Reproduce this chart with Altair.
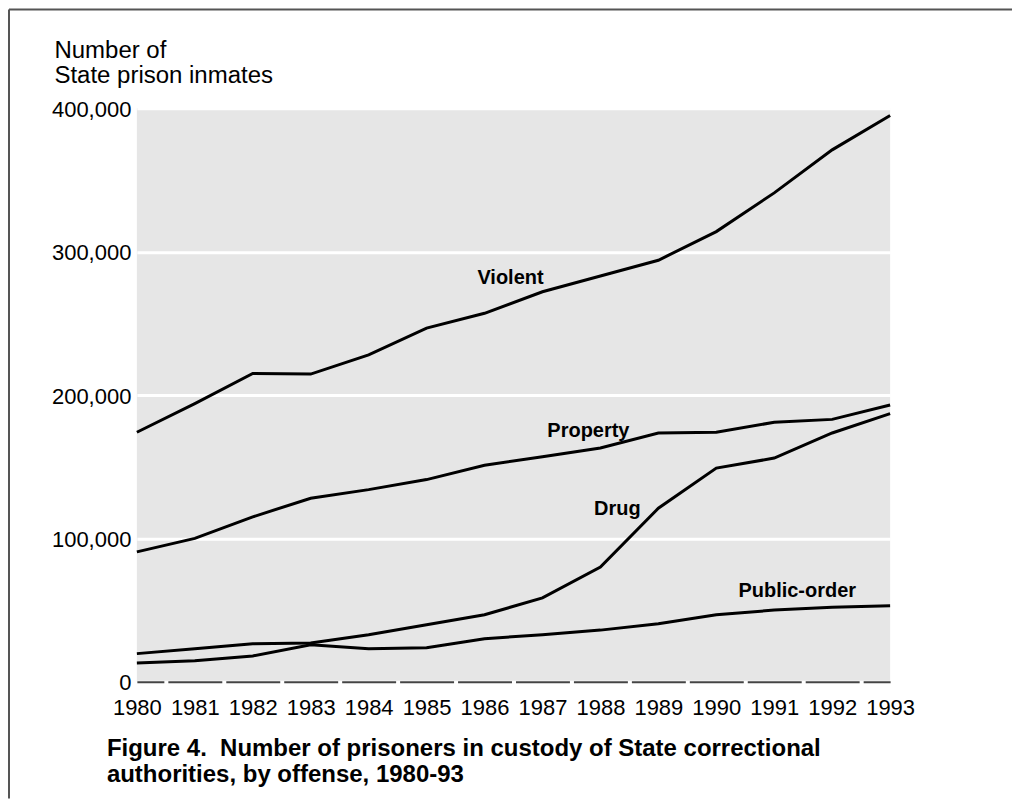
import altair as alt
import pandas as pd

# ---- data ----
years = list(range(1980, 1994))
violent = [174000, 194000, 215000, 214600, 228000, 246700, 257000, 272000,
           283000, 294000, 314000, 341000, 371000, 395000]
property_ = [90600, 100000, 115000, 128000, 134000, 141000, 151000, 157000,
             163000, 173500, 174000, 181000, 183000, 193000]
drug = [19600, 23000, 26500, 27000, 32800, 39700, 46700, 58500,
        80000, 121000, 149000, 156000, 173500, 187000]
public_order = [13000, 14600, 18000, 25800, 23000, 23700, 30000, 32800,
                36000, 40400, 46700, 50000, 52000, 53000]
series_names = ["Violent", "Property", "Drug", "Public-order"]
y_ticks = [0, 100000, 200000, 300000, 400000]
y_title = ["Number of", "State prison inmates"]
fig_title = ("Figure 4.\u00a0 Number of prisoners in custody of State correctional\n"
             "authorities, by offense, 1980-93")

rows = []
for name, vals in zip(series_names, [violent, property_, drug, public_order]):
    for yr, v in zip(years, vals):
        rows.append({"series": name, "year": yr, "value": v})
df = pd.DataFrame(rows)

FONT = "Liberation Sans"

x_enc = alt.X(
    "year:Q",
    scale=alt.Scale(domain=[years[0], years[-1]], nice=False, zero=False),
    axis=alt.Axis(values=years, format="d", title=None, grid=False,
                  ticks=False, tickSize=0, labelFontSize=22, labelPadding=33,
                  labelBaseline="alphabetic", labelFlush=False,
                  domainColor="#444444", domainWidth=2,
                  domainDash=[54, 4], domainDashOffset=27),
)
y_enc = alt.Y(
    "value:Q",
    scale=alt.Scale(domain=[0, 400000], nice=False),
    axis=alt.Axis(values=y_ticks, format=",d", title=y_title,
                  titleAngle=0, titleAlign="left", titleX=-83, titleY=-51,
                  titleBaseline="alphabetic", titleFontSize=24,
                  titleFontWeight="normal", titleLineHeight=25,
                  domain=False, ticks=False, tickSize=0,
                  gridColor="white", gridWidth=3, gridOpacity=1,
                  labelPadding=6, labelFontSize=22,
                  labelBaseline="alphabetic", labelOffset=8),
)

base = alt.Chart(df)
lines = base.mark_line(color="black", strokeWidth=3).encode(
    x=x_enc, y=y_enc, detail="series:N"
)

# series labels anchored on a point of their own series
label_spec = [("Violent", 1986, 26, -29), ("Property", 1988, -12, -11),
              ("Drug", 1989, -41, 7), ("Public-order", 1991, 23, -13)]
label_layers = []
for name, yr, dx, dy in label_spec:
    label_layers.append(
        base.transform_filter(
            (alt.datum.series == name) & (alt.datum.year == yr)
        ).mark_text(font=FONT, fontSize=20, fontWeight="bold", color="black",
                    align="center", baseline="alphabetic", dx=dx, dy=dy)
        .encode(x="year:Q", y="value:Q", text="series:N")
    )

one = alt.Chart(pd.DataFrame({"k": [0]}))
title_text = one.mark_text(font=FONT, fontSize=24, fontWeight="bold",
                           color="black", align="left", baseline="alphabetic",
                           lineBreak="\n", lineHeight=26).encode(
    x=alt.value(-30), y=alt.value(648), text=alt.value(fig_title)
)
border_left = one.mark_rule(color="#555555", strokeWidth=2).encode(
    x=alt.value(-128), y=alt.value(-99), y2=alt.value(691)
)
border_top = one.mark_rule(color="#555555", strokeWidth=2).encode(
    x=alt.value(-128), x2=alt.value(876), y=alt.value(-99)
)

chart = alt.layer(lines, *label_layers, title_text, border_left, border_top).properties(
    width=754, height=574, padding=0
).configure(font=FONT).configure_view(
    fill="#e6e6e6", strokeWidth=0
).configure_axis(labelColor="black", titleColor="black", labelFont=FONT,
                 titleFont=FONT)

chart.save("out.html", embed_options={"renderer": "svg", "actions": False})
